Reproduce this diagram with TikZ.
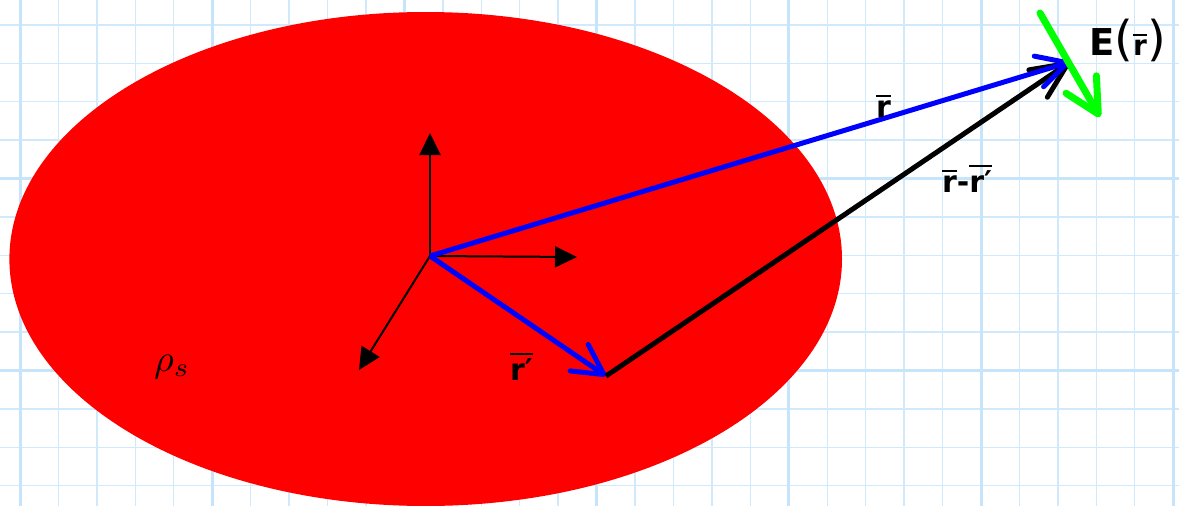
\documentclass[tikz,border=0pt]{standalone}
\usepackage{graphicx}
\usepackage{fontspec}
\setsansfont{DejaVu Sans}
\usetikzlibrary{arrows.meta}
\definecolor{gridthin}{RGB}{208,234,251}
\definecolor{gridthick}{RGB}{198,229,250}
\definecolor{fieldgreen}{RGB}{0,255,0}
\newcommand\obar[1]{\vbox{\hrule height 2pt\kern 3pt\hbox{#1}}}
\newcommand\paren[1]{{\mdseries\fontsize{48}{48}\selectfont #1}}
\tikzset{
  gline/.style={gridthin, line width=1.4pt},
  gthick/.style={gridthick, line width=3pt},
  axisarrow/.style={black, line width=2pt, -{Triangle[length=22pt,width=21pt]}},
  vecblue/.style={blue, line width=5pt, -{Straight Barb[length=30pt,width=32pt,round]}},
  vecblack/.style={black, line width=5pt, -{Straight Barb[length=36pt,width=33pt,round]}},
  vecgreen/.style={fieldgreen, line width=7pt, line cap=round, -{Straight Barb[length=34pt,width=35pt,round]}},
  lbl/.style={font=\sffamily\bfseries\fontsize{30}{30}\selectfont, inner sep=0pt, anchor=base west},
}
\begin{document}
\begin{tikzpicture}[x=1pt,y=-1pt]
\useasboundingbox (0,0) rectangle (1179,506);
\fill[white] (0,0) rectangle (1179,506);
% grid
\foreach \i in {0,...,30}{\draw[gline] ({20+38.44*\i},0) -- ({20+38.44*\i},506);}
\foreach \j in {0,...,12}{\draw[gline] (0,{24.8+38.4*\j}) -- (1179,{24.8+38.4*\j});}
\foreach \i in {0,5,...,30}{\draw[gthick] ({20+38.44*\i},0) -- ({20+38.44*\i},506);}
\foreach \j in {4,9}{\draw[gthick] (0,{24.8+38.4*\j}) -- (1179,{24.8+38.4*\j});}
% charge region
\fill[red] (425.7,259) ellipse [x radius=416.3pt, y radius=247pt];
% coordinates
\coordinate (O) at (430,256);
\coordinate (zt) at (430,133);
\coordinate (xt) at (577,257);
\coordinate (yt) at (359,370);
\coordinate (Rp) at (606,376);
\coordinate (P) at (1070,62);
\coordinate (G1) at (1040,13);
\coordinate (G2) at (1100,117);
% axes
\draw[axisarrow] (O) -- (zt);
\draw[axisarrow] (O) -- (xt);
\draw[axisarrow] (O) -- (yt);
% vectors
\draw[vecblue] (O) -- (Rp);
\draw[vecblack] (Rp) -- (P);
\draw[vecblue] (O) -- (P);
\draw[vecgreen] (G1) -- (G2);
% labels
\node[anchor=base west, inner sep=0pt] (rho) at (154,371) {\scalebox{3.8}{$\rho_s$}};
\node[lbl] (lr) at (876,117) {\obar{r}};
\node[lbl] (lrp) at (510,380) {\obar{r′}};
\node[lbl] (lrr) at (942,192) {\obar{r}-\obar{r′}};
\node[lbl] (lE) at (1089,55) {{\fontsize{37}{37}\selectfont E}\paren{(}{\fontsize{28}{28}\selectfont\obar{r}}\paren{)}};
\end{tikzpicture}
\end{document}
